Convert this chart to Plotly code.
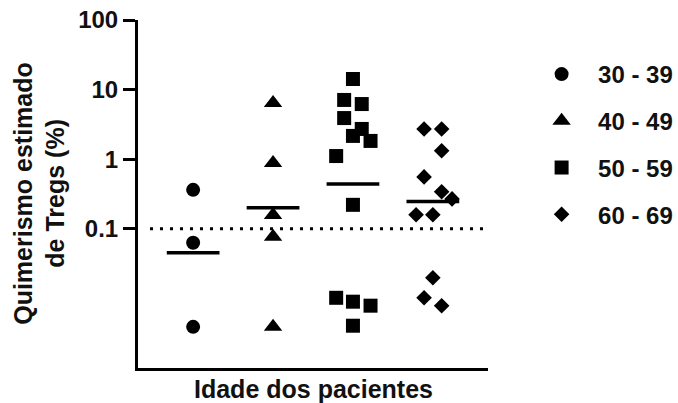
import numpy as np
import plotly.graph_objects as go

groups = ["30 - 39", "40 - 49", "50 - 59", "60 - 69"]
symbols = ["circle", "triangle-up", "square", "diamond"]
msizes = [14, 16, 14, 12]

values = [
    [0.363, 0.063, 0.0039],
    [6.43, 0.885, 0.158, 0.077, 0.0039],
    [14.2, 7.1, 6.2, 3.9, 2.72, 2.16, 1.83, 1.11, 0.221, 0.0102, 0.00897, 0.00786, 0.00405],
    [2.72, 2.72, 1.32, 0.557, 0.34, 0.269, 0.159, 0.159, 0.0198, 0.0102, 0.00785],
]
# horizontal scatter offsets (category units)
offsets = [
    [0, 0, 0],
    [0, 0, 0, 0, 0],
    [0, -0.11, 0.11, -0.11, 0.11, 0, 0.22, -0.21, 0, -0.21, 0, 0.22, 0],
    [-0.11, 0.11, 0.11, -0.11, 0.11, 0.24, -0.21, 0, 0, -0.11, 0.11],
]
means = [0.0453, 0.2, 0.44, 0.246]
threshold = 0.1

FONT = "Liberation Sans, Arial, sans-serif"

fig = go.Figure()
for i, g in enumerate(groups):
    xs = [i + o for o in offsets[i]]
    fig.add_trace(go.Scatter(
        x=xs, y=values[i], mode="markers", name=g, legendgroup=g,
        marker=dict(symbol=symbols[i], size=msizes[i], color="black", line=dict(width=0)),
    ))
for i, m in enumerate(means):
    fig.add_trace(go.Scatter(
        x=[i - 0.33, i + 0.33], y=[m, m], mode="lines", showlegend=False,
        line=dict(color="black", width=3.5), hoverinfo="skip",
    ))

fig.add_shape(type="line", xref="x", yref="y", x0=-0.54, x1=3.63, y0=threshold, y1=threshold,
              line=dict(color="black", width=3, dash="3px,7px"))

fig.update_layout(
    width=678, height=403,
    margin=dict(l=138, r=190, t=20, b=35, autoexpand=False),
    plot_bgcolor="white", paper_bgcolor="white",
    font=dict(family=FONT, color="black", size=24, weight="bold"),
    showlegend=True,
    legend=dict(x=1.106, y=0.908, xanchor="left", yanchor="top",
                font=dict(family=FONT, size=24, color="#111", weight="bold"),
                tracegroupgap=12.5, itemwidth=63, bgcolor="rgba(0,0,0,0)"),
    xaxis=dict(range=[-0.69, 3.69], showgrid=False, zeroline=False, showticklabels=False,
               ticks="", showline=True, linecolor="black", linewidth=3, automargin=False),
    yaxis=dict(type="log", range=[-3, 2], showgrid=False, zeroline=False,
               tickvals=[0.1, 1, 10, 100], ticktext=["0.1", "1", "10", "100"],
               ticks="outside", ticklen=12, tickwidth=3, tickcolor="black",
               showline=True, linecolor="black", linewidth=3, automargin=False,
               tickfont=dict(family=FONT, size=24, color="#111", weight="bold")),
    annotations=[
        dict(text="Quimerismo estimado", xref="paper", yref="paper", x=-0.329, y=0.503,
             textangle=-90, showarrow=False, xanchor="center", yanchor="middle",
             font=dict(family=FONT, size=25, color="#111", weight="bold")),
        dict(text="de Tregs (%)", xref="paper", yref="paper", x=-0.238, y=0.503,
             textangle=-90, showarrow=False, xanchor="center", yanchor="middle",
             font=dict(family=FONT, size=25, color="#111", weight="bold")),
        dict(text="Idade dos pacientes", xref="paper", yref="paper", x=0.5, y=-0.06,
             showarrow=False, xanchor="center", yanchor="middle",
             font=dict(family=FONT, size=25, color="#111", weight="bold")),
    ],
)

fig.write_html("out.html")
